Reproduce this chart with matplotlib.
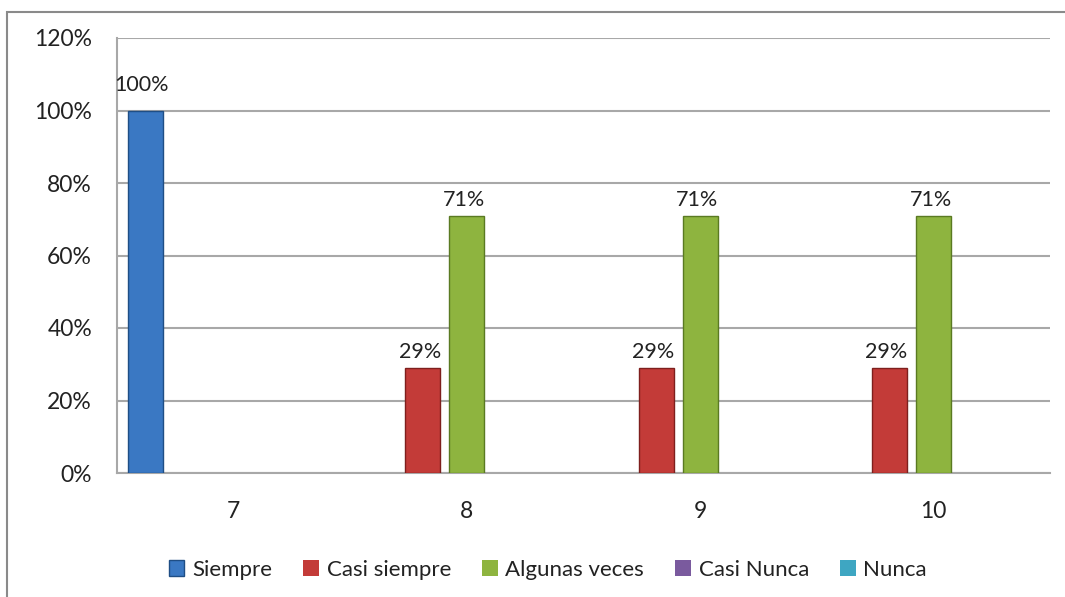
import matplotlib
matplotlib.use("Agg")
import matplotlib.pyplot as plt
import numpy as np
from matplotlib.patches import Rectangle

categories = ["7", "8", "9", "10"]
series_names = ["Siempre", "Casi siempre", "Algunas veces", "Casi Nunca", "Nunca"]
siempre = [1.00, 0.0, 0.0, 0.0]
casi_siempre = [0.0, 0.29, 0.29, 0.29]
algunas_veces = [0.0, 0.71, 0.71, 0.71]
casi_nunca = [0.0, 0.0, 0.0, 0.0]
nunca = [0.0, 0.0, 0.0, 0.0]
values = [siempre, casi_siempre, algunas_veces, casi_nunca, nunca]
yticks = [0, 0.2, 0.4, 0.6, 0.8, 1.0, 1.2]
ytick_labels = ["0%", "20%", "40%", "60%", "80%", "100%", "120%"]

colors = ["#3A78C3", "#C33B38", "#8EB43F", "#7A5A9E", "#3EA6C2"]
edges = ["#1F4E85", "#7E1F1D", "#5A7A22", "#4F3A6C", "#256F83"]

plt.rcParams['font.family'] = ['Lato', 'DejaVu Sans']
fig = plt.figure(figsize=(10.65, 5.97), dpi=100)
fig.patch.set_facecolor("white")

# outer chart frame
fig.patches.append(Rectangle((7/1065, -0.1), 1.2, 1 - 12/597 + 0.1, transform=fig.transFigure,
                             fill=False, edgecolor="#8a8a8a", linewidth=1.5))

ax = fig.add_axes([117/1065, 1 - 473/597, 933/1065, 435/597])
x = np.arange(len(categories))
step = 0.189
width = 0.15
for i, (name, vals) in enumerate(zip(series_names, values)):
    pos = x + (i - 2) * step
    lws = [1.0 if v > 0 else 0.0 for v in vals]
    ax.bar(pos, vals, width=width, color=colors[i], edgecolor=edges[i], linewidth=lws,
           label=name, zorder=3)
    for p, v in zip(pos, vals):
        if v > 0:
            off = 11 if v >= 1.0 else 4
            ax.annotate(f"{v:.0%}", (p, v), xytext=(-3 if v >= 1.0 else -2, off), textcoords="offset points",
                        ha="center", va="bottom", fontsize=15.5, color="#222222")

ax.set_xlim(-0.5, len(categories) - 0.5)
ax.set_ylim(0, 1.2)
ax.set_yticks(yticks)
ax.set_yticklabels(ytick_labels)
ax.set_xticks(x)
ax.set_xticklabels(categories)
ax.tick_params(axis="y", length=0, pad=18, labelsize=16.5, labelcolor="#222222")
ax.tick_params(axis="x", length=0, pad=20, labelsize=16.5, labelcolor="#222222")
ax.yaxis.grid(True, color="#a8a8a8", linewidth=1.5, zorder=0)
ax.set_axisbelow(True)
for s in ["top", "right"]:
    ax.spines[s].set_visible(False)
ax.spines["left"].set_color("#a8a8a8")
ax.spines["bottom"].set_color("#a8a8a8")
ax.spines["left"].set_linewidth(1.5)
ax.spines["bottom"].set_linewidth(1.5)

leg = fig.legend(loc="center", bbox_to_anchor=(548/1065, 1 - 570/597), ncol=5, frameon=False,
                 fontsize=16, handlelength=0.7, handleheight=0.7, handletextpad=0.35,
                 columnspacing=1.4)
for t in leg.get_texts():
    t.set_color("#222222")

fig.savefig("out.png", dpi=100, facecolor="white")
